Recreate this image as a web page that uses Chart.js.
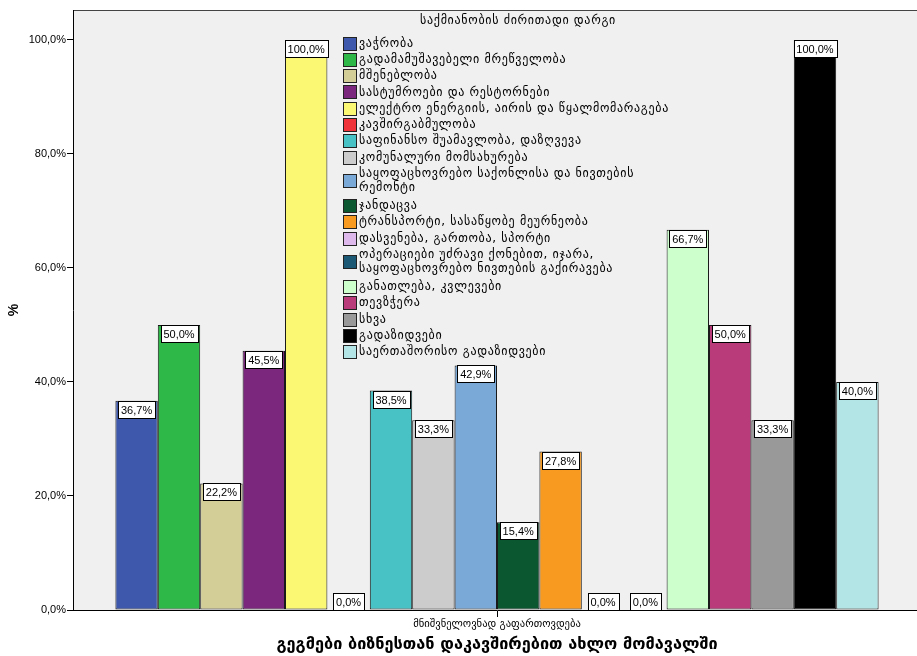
<!DOCTYPE html>
<html>
<head>
<meta charset="utf-8">
<script src="https://cdn.jsdelivr.net/npm/chart.js@4/dist/chart.umd.min.js"></script>
<style>
  html, body { margin: 0; padding: 0; background: #fff; overflow: hidden; }
  #wrap { width: 917px; height: 656px; overflow: hidden; position: relative; }
  canvas { display: block; }
</style>
</head>
<body>
<div id="wrap"><canvas id="c" width="921" height="656"></canvas></div>
<script>
const categories = ['მნიშვნელოვნად გაფართოვდება'];
const legendTitle = 'საქმიანობის ძირითადი დარგი';
const seriesNames = [
  ['ვაჭრობა'],
  ['გადამამუშავებელი მრეწველობა'],
  ['მშენებლობა'],
  ['სასტუმროები და რესტორნები'],
  ['ელექტრო ენერგიის, აირის და წყალმომარაგება'],
  ['კავშირგაბმულობა'],
  ['საფინანსო შუამავლობა, დაზღვევა'],
  ['კომუნალური მომსახურება'],
  ['საყოფაცხოვრებო საქონლისა და ნივთების', 'რემონტი'],
  ['ჯანდაცვა'],
  ['ტრანსპორტი, სასაწყობე მეურნეობა'],
  ['დასვენება, გართობა, სპორტი'],
  ['ოპერაციები უძრავი ქონებით, იჯარა,', 'საყოფაცხოვრებო ნივთების გაქირავება'],
  ['განათლება, კვლევები'],
  ['თევზჭერა'],
  ['სხვა'],
  ['გადაზიდვები'],
  ['საერთაშორისო გადაზიდვები']
];
const seriesValues = [36.7, 50.0, 22.2, 45.5, 100.0, 0.0, 38.5, 33.3, 42.9, 15.4, 27.8, 0.0, 0.0, 66.7, 50.0, 33.3, 100.0, 40.0];
const seriesColors = ['#3E58AC', '#2EB848', '#D3CE97', '#7B277D', '#FBF873', '#EF3338', '#48C2C5', '#CCCCCC', '#7BA9D7', '#0A5730', '#F89A20', '#DDB8EA', '#1B5873', '#CCFFCC', '#BA3B7A', '#999999', '#000000', '#B3E5E6'];
const yTicks = [0, 20, 40, 60, 80, 100];
const yMax = 105.26;
const yTitle = '%';
const xTitle = 'გეგმები ბიზნესთან დაკავშირებით ახლო მომავალში';

const SANS = "'Liberation Sans', Arial, 'DejaVu Sans', sans-serif";
const GEO = "'DejaVu Sans', sans-serif";
const fmt = v => v.toFixed(1).replace('.', ',') + '%';

const bgPlugin = {
  id: 'bg',
  beforeDraw(chart) {
    const { ctx, chartArea: a } = chart;
    ctx.save();
    ctx.fillStyle = '#fff';
    ctx.fillRect(0, 0, chart.width, chart.height);
    ctx.fillStyle = '#F0F0F0';
    ctx.fillRect(a.left, a.top, a.right - a.left, a.bottom - a.top);
    ctx.strokeStyle = '#444';
    ctx.lineWidth = 1;
    ctx.beginPath();
    ctx.moveTo(a.left, a.top + 0.5);
    ctx.lineTo(a.right, a.top + 0.5);
    ctx.stroke();
    ctx.restore();
  }
};

const labelPlugin = {
  id: 'vlabels',
  afterDatasetsDraw(chart) {
    const ctx = chart.ctx;
    ctx.save();
    ctx.font = '11px ' + SANS;
    ctx.textAlign = 'center';
    ctx.textBaseline = 'middle';
    chart.data.datasets.forEach((ds, i) => {
      const meta = chart.getDatasetMeta(i);
      meta.data.forEach((el, j) => {
        const v = ds.data[j];
        const t = fmt(v);
        const w = Math.round(ctx.measureText(t).width + 6);
        const h = 17;
        const top = Math.min(el.y, el.base - h);
        const x0 = Math.round(el.x - w / 2) + 0.5;
        const y0 = Math.round(top) + 0.5;
        ctx.fillStyle = '#fff';
        ctx.fillRect(x0, y0, w, h);
        ctx.strokeStyle = '#000';
        ctx.lineWidth = 1;
        ctx.strokeRect(x0, y0, w, h);
        ctx.fillStyle = '#000';
        ctx.fillText(t, el.x, y0 + h / 2 + 0.5);
      });
    });
    ctx.restore();
  }
};

const legendPlugin = {
  id: 'customLegend',
  afterDraw(chart) {
    const ctx = chart.ctx;
    const a = chart.chartArea;
    const lx = a.left + 270;
    let y = a.top + 33.5;
    const rowH = 16.3, lineH = 14;
    ctx.save();
    ctx.font = '12px ' + GEO;
    ctx.letterSpacing = '0.7px';
    ctx.fillStyle = '#000';
    ctx.textBaseline = 'middle';
    ctx.textAlign = 'center';
    ctx.fillText(legendTitle, lx + 175, a.top + 11);
    ctx.textAlign = 'left';
    seriesNames.forEach((lines, i) => {
      const n = lines.length;
      const boxY = y + (n - 1) * lineH / 2;
      ctx.fillStyle = seriesColors[i];
      ctx.fillRect(lx + 0.5, Math.round(boxY - 7) + 0.5, 13, 13);
      ctx.strokeStyle = '#222';
      ctx.lineWidth = 1;
      ctx.strokeRect(lx + 0.5, Math.round(boxY - 7) + 0.5, 13, 13);
      ctx.fillStyle = '#000';
      lines.forEach((ln, k) => ctx.fillText(ln, lx + 16, y + k * lineH));
      y += (n - 1) * (lineH + 1.8) + rowH;
    });
    ctx.restore();
  }
};

new Chart(document.getElementById('c'), {
  type: 'bar',
  data: {
    labels: categories,
    datasets: seriesNames.map((n, i) => ({
      label: n.join(' '),
      data: [seriesValues[i]],
      backgroundColor: seriesColors[i],
      borderColor: '#1a1a1a',
      borderWidth: 1,
      borderSkipped: false
    }))
  },
  options: {
    responsive: false,
    animation: false,
    layout: { padding: { top: 10, right: 0, left: 0, bottom: 0 } },
    plugins: { legend: { display: false }, tooltip: { enabled: false } },
    datasets: { bar: { categoryPercentage: 0.9, barPercentage: 1.0 } },
    scales: {
      x: {
        grid: { display: true, offset: false, drawOnChartArea: false, tickLength: 7, color: '#000' },
        border: { display: true, color: '#000' },
        ticks: { font: { size: 10.6, family: GEO }, color: '#000', padding: 1 },
        title: { display: true, text: xTitle, font: { size: 16.3, weight: 'bold', family: GEO }, color: '#000', padding: { top: 2, bottom: 1 } },
        afterFit(s) { s.height = 46; }
      },
      y: {
        min: 0, max: yMax,
        afterBuildTicks(s) { s.ticks = yTicks.map(v => ({ value: v })); },
        ticks: { callback: v => fmt(v), font: { size: 11, family: SANS }, color: '#000', padding: 1 },
        grid: { display: true, drawOnChartArea: false, tickLength: 6, color: '#000' },
        border: { display: true, color: '#000' },
        title: { display: true, text: yTitle, font: { size: 14, weight: 'bold', family: SANS }, color: '#000', padding: { top: 6, bottom: 0 } },
        afterFit(s) { s.width = 73; }
      }
    }
  },
  plugins: [bgPlugin, labelPlugin, legendPlugin]
});
</script>
</body>
</html>
